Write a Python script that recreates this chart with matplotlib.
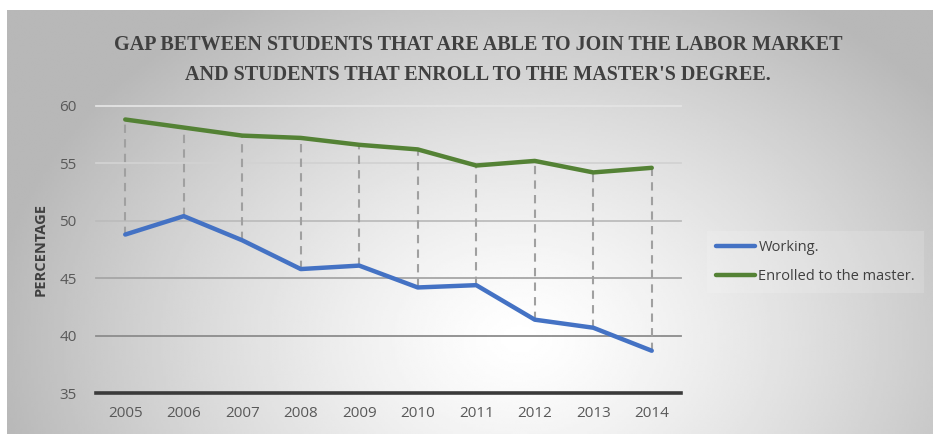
import numpy as np
import matplotlib
matplotlib.use("Agg")
import matplotlib.pyplot as plt
from matplotlib.lines import Line2D

years = ["2005", "2006", "2007", "2008", "2009", "2010", "2011", "2012", "2013", "2014"]
working = [48.8, 50.4, 48.3, 45.8, 46.1, 44.2, 44.4, 41.4, 40.7, 38.7]
enrolled = [58.8, 58.1, 57.4, 57.2, 56.6, 56.2, 54.8, 55.2, 54.2, 54.6]
y_ticks = [35, 40, 45, 50, 55, 60]

W, H = 933, 434
fig = plt.figure(figsize=(W / 100, H / 100), dpi=100)
fig.patch.set_facecolor("white")

# radial grey background panel
bg = fig.add_axes([7 / W, 0, 1 - 7 / W, 1 - 10 / H])
bg.set_axis_off()
nx, ny = 400, 200
xx, yy = np.meshgrid(np.linspace(7, W, nx), np.linspace(10, H, ny))
cx, cy = 520, 340
r = np.sqrt(((xx - cx) / 560) ** 2 + ((yy - cy) / 420) ** 2)
val = np.clip(1.0 - 0.30 * r ** 1.3, 0.72, 1.0)
bg.imshow(val, cmap="gray", vmin=0, vmax=1, aspect="auto",
          extent=[0, 1, 0, 1], origin="upper", interpolation="bilinear")
bg.set_xlim(0, 1)
bg.set_ylim(0, 1)

ax = fig.add_axes([96 / W, (H - 393.3) / H, (681 - 96) / W, (393.3 - 105.7) / H])
ax.patch.set_alpha(0)
x = np.arange(len(years))
ax.set_xlim(-0.5, len(years) - 0.5)
ax.set_ylim(35, 60)

grid_colors = {40: "#8c8c8c", 45: "#a6a6a6", 50: "#bcbcbc", 55: "#d2d2d2", 60: "#e4e4e4"}
for v, c in grid_colors.items():
    ax.axhline(v, color=c, lw=1.3, zorder=1, clip_on=False)
ax.axhline(35, color="#3a3a3a", lw=2.6, zorder=2, clip_on=False)

# drop lines between the two series
for xi, a, b in zip(x, working, enrolled):
    ax.plot([xi, xi], [a, b], color="#a0a0a0", lw=1.5, ls=(0, (4, 3)), zorder=2)

ax.plot(x, working, color="#4472c4", lw=3.2, solid_capstyle="round", zorder=3)
ax.plot(x, enrolled, color="#548235", lw=3.2, solid_capstyle="round", zorder=3)

for s in ax.spines.values():
    s.set_visible(False)
ax.set_xticks(x)
ax.set_xticklabels(years)
ax.set_yticks(y_ticks)
ax.tick_params(length=0, labelsize=11, labelcolor="#595959", pad=9)
ax.tick_params(axis="y", pad=14)
for lbl in ax.get_xticklabels() + ax.get_yticklabels():
    lbl.set_fontfamily("Open Sans")
ax.set_ylabel("PERCENTAGE", fontsize=10.5, fontweight="bold", color="#404040",
              fontfamily="Open Sans", labelpad=8)

handles = [Line2D([], [], color="#4472c4", lw=3.2, solid_capstyle="round"),
           Line2D([], [], color="#548235", lw=3.2, solid_capstyle="round")]
leg = fig.legend(handles, ["Working.", "Enrolled to the master."],
                 loc="center left", bbox_to_anchor=(700 / W, (H - 262) / H),
                 frameon=True, fancybox=False, handlelength=2.7, handletextpad=0.2,
                 labelspacing=1.0, borderpad=0.6,
                 prop={"family": "Open Sans", "size": 10.5})
leg.get_frame().set_facecolor("white")
leg.get_frame().set_alpha(0.15)
leg.get_frame().set_edgecolor("none")
for t in leg.get_texts():
    t.set_color("#404040")

title_kw = dict(ha="center", va="center", fontfamily="Liberation Serif",
                fontweight="bold", color="#404040", fontsize=14.5)
fig.text(478 / W, 1 - 45 / H,
         "GAP BETWEEN STUDENTS THAT ARE ABLE TO JOIN THE LABOR MARKET", **title_kw)
fig.text(478 / W, 1 - 75 / H,
         "AND STUDENTS THAT ENROLL TO THE MASTER'S DEGREE.", **title_kw)

fig.savefig("out.png", dpi=100)
